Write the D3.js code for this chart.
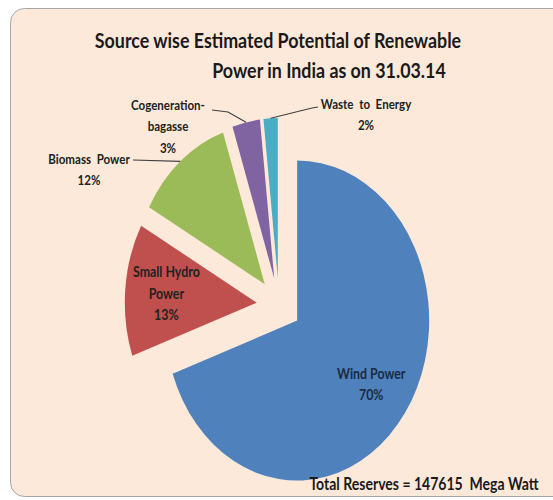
<!DOCTYPE html>
<html>
<head>
<meta charset="utf-8">
<script src="https://cdn.jsdelivr.net/npm/d3@7"></script>
<style>
  body { margin: 0; background: #ffffff; }
  text { font-family: Lato, "Open Sans", sans-serif; white-space: pre; }
</style>
</head>
<body>
<svg id="chart"></svg>
<script>
// ===================== DATA =====================
var sources = ["Wind Power", "Small Hydro Power", "Biomass Power", "Cogeneration-bagasse", "Waste to Energy"];
var potentialMW = [102772, 19749, 17538, 5000, 2556];
var labelLines = [["Wind Power"], ["Small Hydro", "Power"], ["Biomass  Power"], ["Cogeneration-", "bagasse"], ["Waste  to  Energy"]];
var sliceColors = ["#4f81bd", "#c0504d", "#9bbb59", "#8064a2", "#4bacc6"];
var titleLines = ["Source wise Estimated Potential of Renewable", "Power in India as on 31.03.14"];

// ===================== LAYOUT =====================
var width = 553, height = 500;
var cx = 279, cy = 305;     // pie centre
var sx = 0.825;             // picture is squeezed horizontally
var radius = 160, explode = 27, inLabelR = 110;
var lineH = 21.5;

// outside labels: anchor of first line + leader start (screen px)
var outside = {
  2: { x: 89, y: 159, lead: [[133, 160]] },
  3: { x: 168, y: 105, lead: [[212, 110], [228, 112]] },
  4: { x: 366, y: 104, lead: [[318, 107], [312, 108]] }
};

var svg = d3.select("#chart").attr("width", width).attr("height", height);

// background panel
svg.append("rect")
  .attr("x", 10.5).attr("y", 8.5)
  .attr("width", 600).attr("height", 488)
  .attr("rx", 14)
  .attr("fill", "#fde9d9")
  .attr("stroke", "#a6a6a6")
  .attr("stroke-width", 1);

// title
svg.selectAll(".title")
  .data(titleLines)
  .enter().append("text")
  .attr("class", "title")
  .attr("transform", function(d, i) { return "translate(" + (i == 0 ? 278 : 329) + "," + (i == 0 ? 48 : 78) + ") scale(0.85,1)"; })
  .attr("text-anchor", "middle")
  .attr("font-size", 21)
  .attr("font-weight", "bold")
  .attr("fill", "#1a1a1a")
  .text(function(d) { return d; });

// ===================== PIE =====================
var total = d3.sum(potentialMW);
var pie = d3.pie().sort(null).value(function(d) { return d; });
var arcs = pie(potentialMW);
var arc = d3.arc().innerRadius(0).outerRadius(radius);

function mid(d) { return (d.startAngle + d.endAngle) / 2; }
function polar(a, r) { return [cx + sx * Math.sin(a) * r, cy - Math.cos(a) * r]; }

var g = svg.append("g")
  .attr("transform", "translate(" + cx + "," + cy + ") scale(" + sx + ",1)");

g.selectAll("path")
  .data(arcs)
  .enter().append("path")
  .attr("d", arc)
  .attr("transform", function(d) {
    var a = mid(d);
    return "translate(" + (Math.sin(a) * explode) + "," + (-Math.cos(a) * explode) + ")";
  })
  .attr("fill", function(d, i) { return sliceColors[i]; });

// ===================== LABELS =====================
arcs.forEach(function(d, i) {
  var pct = Math.round(d.value / total * 100) + "%";
  var lines = labelLines[i].concat([pct]);
  var x, y0, fs = 14;
  if (outside[i]) {
    x = outside[i].x;
    y0 = outside[i].y;
    var pts = outside[i].lead.concat([polar(mid(d), radius + explode)]);
    svg.append("path")
      .attr("d", d3.line()(pts))
      .attr("fill", "none")
      .attr("stroke", "#404040")
      .attr("stroke-width", 1.2);
  } else {
    var p = polar(mid(d), inLabelR + explode);
    x = p[0];
    y0 = p[1] - (lines.length - 1) * lineH / 2;
    fs = 15;
  }
  lines.forEach(function(t, k) {
    svg.append("text")
      .attr("transform", "translate(" + x + "," + (y0 + k * lineH) + ") scale(" + sx + ",1)")
      .attr("text-anchor", "middle")
      .attr("dy", "0.35em")
      .attr("font-size", fs)
      .attr("font-weight", "bold")
      .attr("fill", i == 0 ? "#1c2a44" : "#222222")
      .text(t);
  });
});

// total
svg.append("text")
  .attr("transform", "translate(424,490) scale(" + sx + ",1)")
  .attr("text-anchor", "middle")
  .attr("font-size", 17)
  .attr("font-weight", "bold")
  .attr("fill", "#1a1a1a")
  .text("Total Reserves = " + total + "  Mega Watt");
</script>
</body>
</html>
